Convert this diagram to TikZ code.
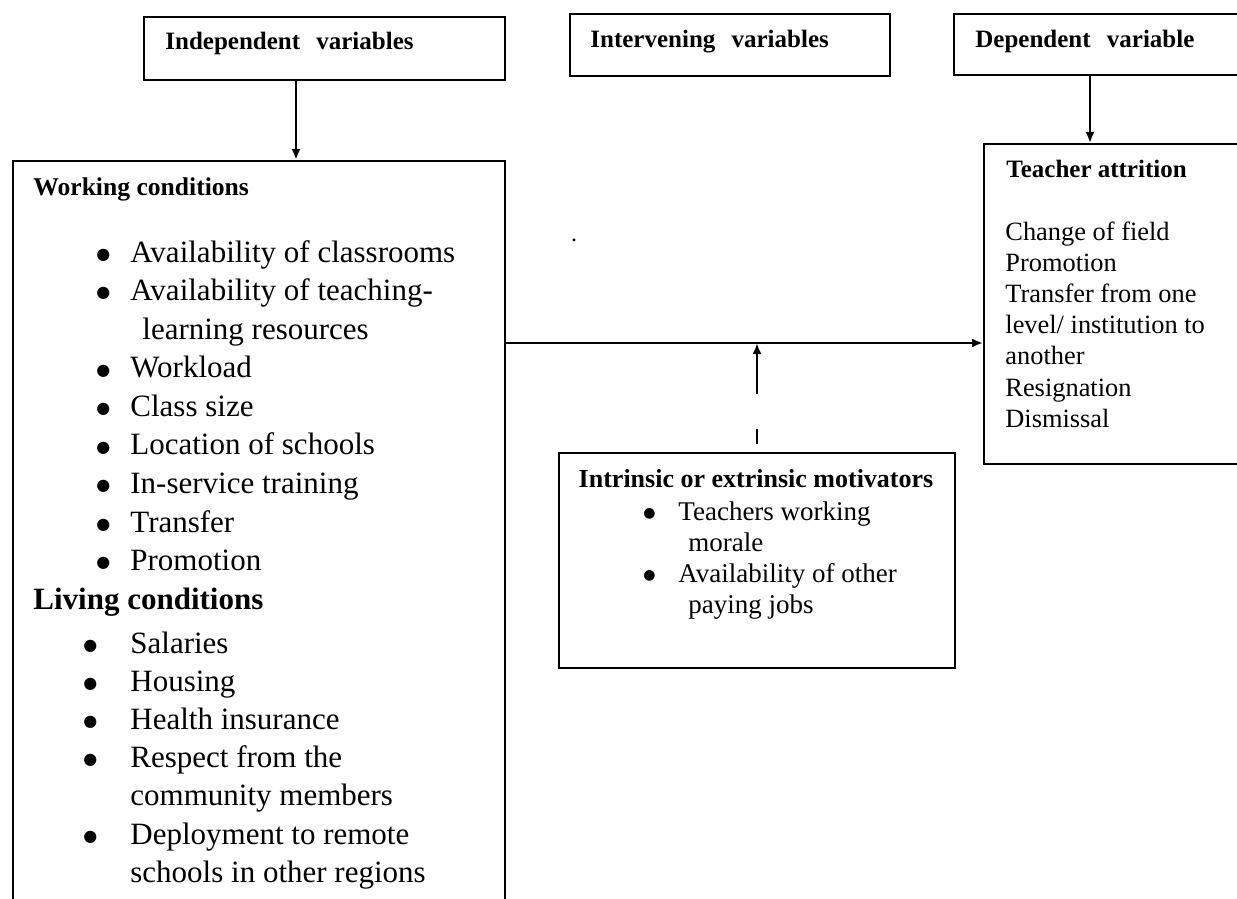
\documentclass[tikz,border=0pt]{standalone}
\usepackage{fontspec}
\setmainfont{Liberation Serif}
\newfontfamily\symfont{DejaVu Sans}
\usepackage{tikz}
\usetikzlibrary{positioning, arrows.meta}
\newcommand{\bul}[1][8]{\raisebox{1.4pt}{\symfont\fontsize{#1}{#1}\selectfont ●}}

\begin{document}
\begin{tikzpicture}[x=0.5pt, y=-0.5pt,
  box/.style={draw, line width=1pt, inner sep=0pt, anchor=north west},
  head/.style={font=\bfseries\fontsize{12.5}{15}\selectfont, anchor=base west, inner sep=0pt},
  biglist/.style={font=\fontsize{15.5}{19.3}\selectfont, anchor=base west, inner sep=0pt},
  smalllist/.style={font=\fontsize{13.2}{15.6}\selectfont, anchor=base west, inner sep=0pt},
  arr/.style={line width=1.2pt, -{Latex[length=5.5pt,width=4.5pt]}}]
	\useasboundingbox (0,0) rectangle (1237,899);
	\clip (0,0) rectangle (1237,899);

	% the three headings on top
	\node[box, minimum width=180.5pt, minimum height=31.5pt] (indep) at (143,16) {};
	\node[box, minimum width=160pt, minimum height=31pt] (interv) at (569,13) {};
	\node[box, minimum width=160pt, minimum height=30.5pt] (dep) at (953,13) {};
	\node[head] (indeptxt) at (165,50) {Independent\hspace{0.4em} variables};
	\node[head] (intervtxt) at (590,48) {Intervening\hspace{0.4em} variables};
	\node[head] (deptxt) at (975,48) {Dependent\hspace{0.4em} variable};

	% boxes below
	\node[box, minimum width=246pt, minimum height=400pt] (work) at (12,160) {};
	\node[box, minimum width=150pt, minimum height=160pt] (teach) at (983,143) {};
	\node[box, minimum width=198pt, minimum height=107.5pt] (motiv) at (558,452) {};

	\node[head, font=\bfseries\fontsize{12.8}{15}\selectfont] (worktitle) at (33,195) {Working conditions};
	\node[biglist] (worklist) at (96,262) {\parbox[t]{200pt}{\raggedright
		\makebox[17pt][l]{\bul}Availability of classrooms\\
		\makebox[17pt][l]{\bul}Availability of teaching-\\
		\hspace*{23pt}learning resources\\
		\makebox[17pt][l]{\bul}Workload\\
		\makebox[17pt][l]{\bul}Class size\\
		\makebox[17pt][l]{\bul}Location of schools\\
		\makebox[17pt][l]{\bul}In-service training\\
		\makebox[17pt][l]{\bul}Transfer\\
		\makebox[17pt][l]{\bul}Promotion}};
	\node[head, font=\bfseries\fontsize{15.5}{18}\selectfont] (livetitle) at (33,609) {Living conditions};
	\node[biglist, font=\fontsize{15.5}{19.1}\selectfont] (livelist) at (83,653) {\parbox[t]{200pt}{\raggedright
		\makebox[23.5pt][l]{\bul}Salaries\\
		\makebox[23.5pt][l]{\bul}Housing\\
		\makebox[23.5pt][l]{\bul}Health insurance\\
		\makebox[23.5pt][l]{\bul}Respect from the\\
		\hspace*{23.5pt}community members\\
		\makebox[23.5pt][l]{\bul}Deployment to remote\\
		\hspace*{23.5pt}schools in other regions}};

	\node[head] (teachtitle) at (1006,177) {Teacher attrition};
	\node[smalllist] (teachlist) at (1005,240) {\parbox[t]{120pt}{\raggedright
		Change of field\\
		Promotion\\
		Transfer from one\\
		level/ institution to\\
		another\\
		Resignation\\
		Dismissal}};

	\node[head, anchor=base, font=\bfseries\fontsize{13}{15}\selectfont] (motivtitle) at (756,487) {Intrinsic or extrinsic motivators};
	\node[smalllist, font=\fontsize{13.5}{15.5}\selectfont] (motivlist) at (643,520) {\parbox[t]{150pt}{\raggedright
		\makebox[17.5pt][l]{\bul[7]}Teachers working\\
		\hspace*{22.5pt}morale\\
		\makebox[17.5pt][l]{\bul[7]}Availability of other\\
		\hspace*{22.5pt}paying jobs}};

	\node[font=\fontsize{12}{14}\selectfont, inner sep=0pt] (dot) at (574,240) {.};

	% connectors
	\coordinate (a1) at (296,0);
	\coordinate (a2) at (1090,0);
	\coordinate (hlink) at (504,343);
	\draw[arr] (indep.south -| a1) -- (work.north -| a1);
	\draw[arr] (dep.south -| a2) -- (teach.north -| a2);
	\draw[arr] (hlink) -- (hlink -| teach.west);
	\draw[arr, dash pattern=on 0pt off 4pt on 7.5pt off 17.5pt on 40pt] (motiv.north) -- (motiv.north |- hlink);
\end{tikzpicture}
\end{document}
